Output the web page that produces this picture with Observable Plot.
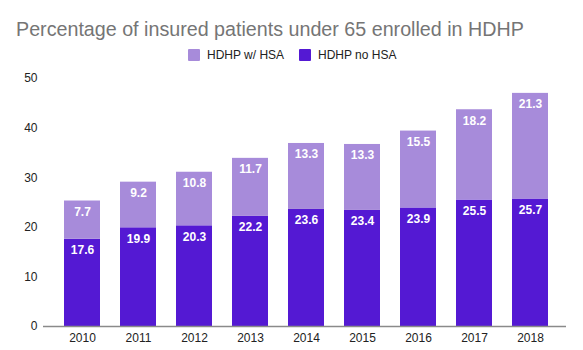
<!DOCTYPE html>
<html>
<head>
<meta charset="utf-8">
<script src="https://cdn.jsdelivr.net/npm/d3@7"></script>
<script src="https://cdn.jsdelivr.net/npm/@observablehq/plot@0.6"></script>
<style>
  body { margin: 0; background: #fff; font-family: "Liberation Sans", Arial, sans-serif; }
  #wrap { width: 583px; height: 350px; position: relative; overflow: hidden; }
  #title { position: absolute; left: 16px; top: 17px; font-size: 19.7px; color: #757575; white-space: nowrap; line-height: 24px; }
  #legend { position: absolute; top: 47px; left: 0; width: 583px; height: 16px; font-size: 12px; color: #222; }
  .item { position: absolute; top: 0; display: flex; align-items: center; height: 16px; }
  .sw { width: 12px; height: 12px; margin-right: 7px; border-radius: 1px; }
  #chart { position: absolute; top: 70px; left: 0; }
</style>
</head>
<body>
<div id="wrap">
  <div id="title">Percentage of insured patients under 65 enrolled in HDHP</div>
  <div id="legend"></div>
  <div id="chart"></div>
</div>
<script>
const years = ["2010","2011","2012","2013","2014","2015","2016","2017","2018"];
const noHSA = [17.6, 19.9, 20.3, 22.2, 23.6, 23.4, 23.9, 25.5, 25.7];
const withHSA = [7.7, 9.2, 10.8, 11.7, 13.3, 13.3, 15.5, 18.2, 21.3];
const seriesNames = ["HDHP no HSA", "HDHP w/ HSA"];
const seriesColors = ["#5419d3", "#a78bda"];
const yTicks = [0, 10, 20, 30, 40, 50];

const data = [];
years.forEach((y, i) => {
  data.push({year: y, series: seriesNames[0], value: noHSA[i]});
  data.push({year: y, series: seriesNames[1], value: withHSA[i]});
});

// legend (order as in reference: w/ HSA first)
const legend = document.getElementById("legend");
const legendItems = [
  {name: seriesNames[1], color: seriesColors[1], left: 188},
  {name: seriesNames[0], color: seriesColors[0], left: 299}
];
legendItems.forEach(it => {
  const d = document.createElement("div");
  d.className = "item";
  d.style.left = it.left + "px";
  d.innerHTML = `<span class="sw" style="background:${it.color}"></span><span>${it.name}</span>`;
  legend.appendChild(d);
});

const chart = Plot.plot({
  width: 583,
  height: 280,
  marginTop: 8,
  marginBottom: 24,
  marginLeft: 43,
  marginRight: 17,
  style: {fontFamily: '"Liberation Sans", Arial, sans-serif', fontSize: "12px", color: "#222", background: "#fff"},
  x: {domain: years, paddingInner: 0.36, paddingOuter: 0.18, insetLeft: 10, insetRight: 8, label: null, tickSize: 0, tickPadding: 7},
  y: {domain: [0, 50], ticks: yTicks, label: null, tickSize: 0, tickPadding: 6},
  color: {domain: seriesNames, range: seriesColors},
  marks: [
    Plot.barY(data, {x: "year", y: "value", fill: "series", order: seriesNames}),
    Plot.ruleY([0], {stroke: "#8a8a8a", strokeWidth: 1.5}),
    Plot.text(data, Plot.stackY2({x: "year", y: "value", z: "series", order: seriesNames,
      text: d => d.value.toFixed(1), fill: "white", fontWeight: "bold", fontSize: 12, dy: 11}))
  ]
});
document.getElementById("chart").appendChild(chart);
</script>
</body>
</html>
